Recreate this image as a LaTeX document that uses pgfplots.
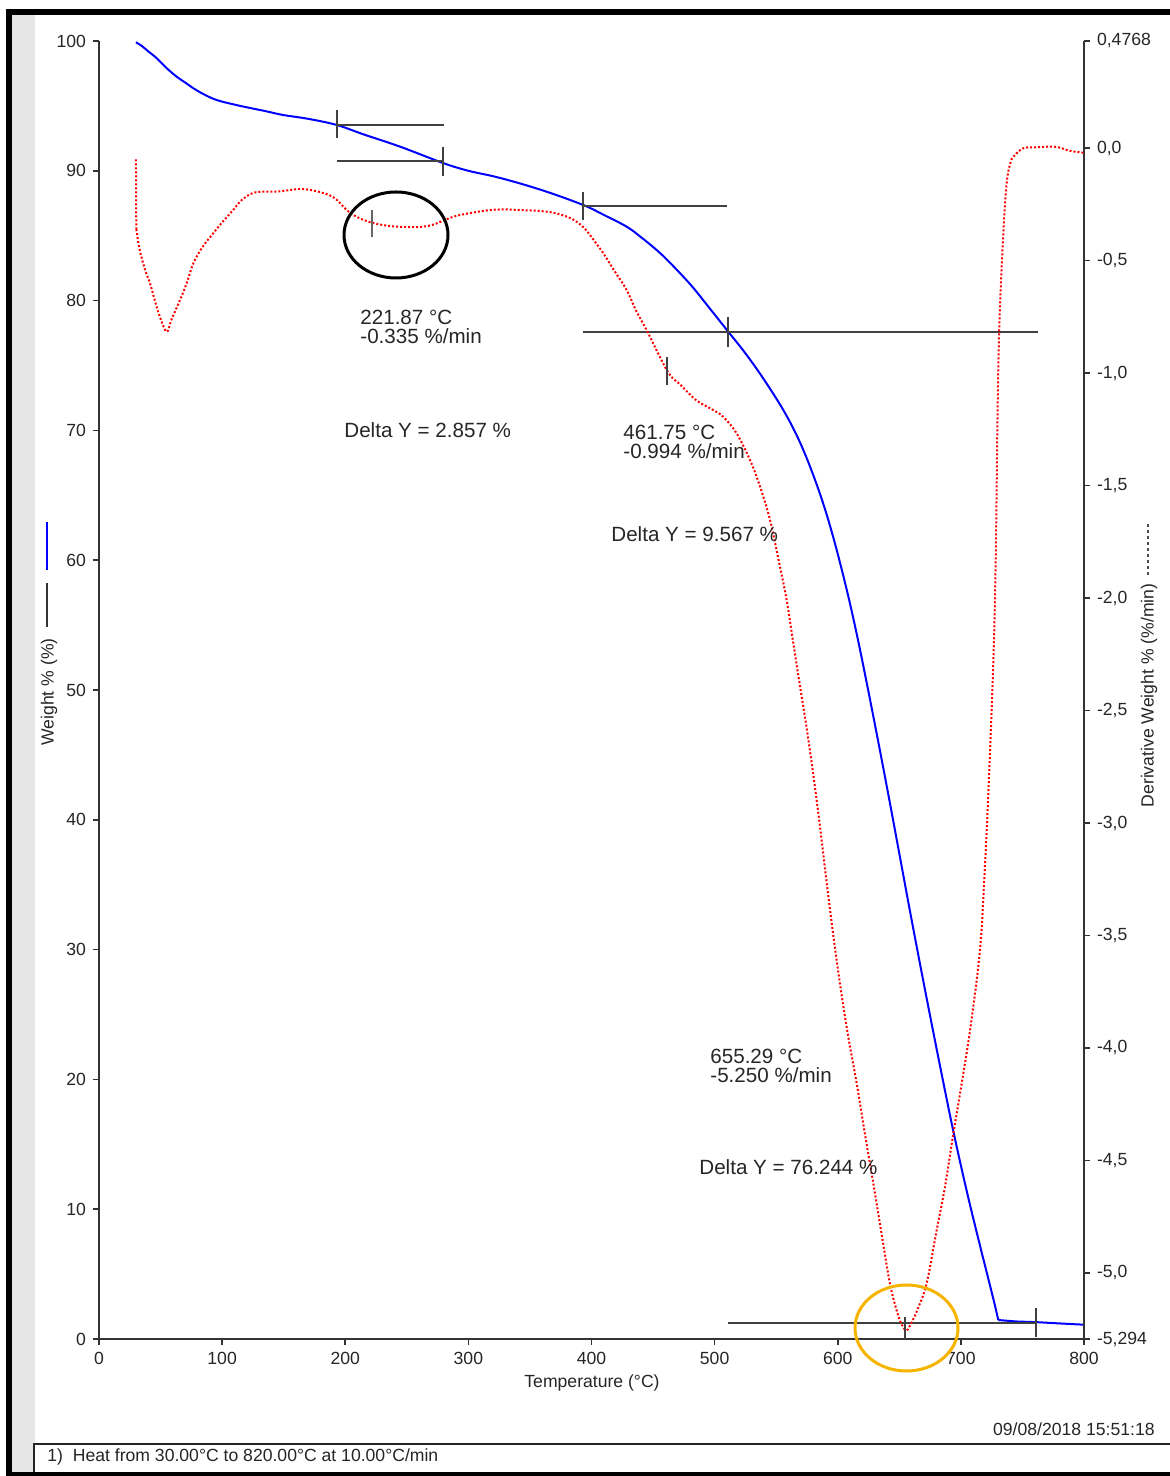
\documentclass[border=0pt]{standalone}
\usepackage{fontspec}
\setmainfont{Liberation Sans}
\usepackage{pgfplots}
\pgfplotsset{compat=1.18}
\definecolor{tgablue}{RGB}{0,0,255}
\definecolor{tgared}{RGB}{255,0,0}
\definecolor{circorange}{RGB}{245,180,0}
\definecolor{stripe}{RGB}{230,230,230}
\newcommand{\lblfont}{\fontsize{8.8}{10}\selectfont}
\newcommand{\annfont}{\fontsize{10.3}{11}\selectfont}
\begin{document}
\begin{tikzpicture}
\path[use as bounding box] (-49.5pt,-68.5pt) rectangle (535.5pt,669.5pt);
\fill[white] (-49.5pt,-68.5pt) rectangle (535.5pt,669.5pt);
\fill[stripe] (-43.5pt,-66.5pt) rectangle (-32pt,662pt);
\fill[black] (-46.5pt,-68.5pt) rectangle (-43.5pt,665pt);
\fill[black] (-46.5pt,662pt) rectangle (536pt,665pt);
\fill[black] (-46.5pt,-68.5pt) rectangle (536pt,-66.3pt);
\draw[line width=0.9pt, black!85] (-32.5pt,-66.5pt) -- (-32.5pt,-52.5pt) -- (536pt,-52.5pt);

\begin{axis}[
  at={(0pt,0pt)}, anchor=south west,
  scale only axis, width=492.5pt, height=649pt,
  xmin=0, xmax=800, ymin=0, ymax=100,
  axis x line*=bottom, axis y line*=left,
  axis line style={-, line width=0.9pt, black!80},
  xtick={0,100,...,800}, ytick={0,10,...,100},
  tick align=outside, major tick length=3pt,
  tick style={line width=0.8pt, black!80},
  /pgf/number format/assume math mode=true,
  tick label style={font=\lblfont, text=black!85},
  clip=false,
]
\addplot[tgablue, line width=1pt, smooth, tension=0.6] coordinates {
(30,99.9) (35,99.6) (40,99.2) (46.9,98.67) (55,97.9) (63.1,97.25) (70,96.8)
(76.3,96.38) (85,95.9) (95.6,95.45) (110,95.1) (122.6,94.84) (135,94.6)
(149.4,94.30) (170,94.0) (193.1,93.53) (215,92.8) (244.5,91.86) (279.4,90.6)
(300,90.0) (325.7,89.45) (360,88.5) (393.1,87.37) (410,86.6) (428.6,85.69)
(440,84.9) (455.6,83.67) (470,82.3) (482.5,81.0) (496,79.4) (511.1,77.6)
(526.1,75.8) (542.3,73.6) (558.6,71.1) (572,68.5) (585.6,65.1) (596.4,61.75)
(607.3,57.72) (615.4,54.32) (622,51.28) (628.9,47.97) (635,44.98) (642.4,41.28)
(650,37.4) (658,33.3) (666.8,28.9) (675,24.9) (684,20.6) (693.9,16.0)
(705,11.3) (715,7.4) (722,4.75) (727,2.85) (730.4,1.46)
};
\addplot[tgablue, line width=1pt] coordinates {
(730.4,1.46) (745,1.35) (761,1.3) (780,1.2) (800,1.1)
};
% step lines
\addplot[black!75, line width=1pt] coordinates {(193.1,93.53) (280.2,93.53)};
\addplot[black!75, line width=1pt] coordinates {(193.1,94.68) (193.1,92.53)};
\addplot[black!75, line width=1pt] coordinates {(193.1,90.76) (280.2,90.76)};
\addplot[black!75, line width=1pt] coordinates {(279.4,91.83) (279.4,89.6)};
\addplot[black!75, line width=1pt] coordinates {(393.1,87.29) (509.8,87.29)};
\addplot[black!75, line width=1pt] coordinates {(393.1,88.37) (393.1,86.21)};
\addplot[black!75, line width=1pt] coordinates {(393.1,77.58) (762.6,77.58)};
\addplot[black!75, line width=1pt] coordinates {(510.9,78.74) (510.9,76.43)};
\addplot[black!75, line width=1pt] coordinates {(510.9,1.23) (761,1.23)};
\addplot[black!75, line width=1pt] coordinates {(761,2.39) (761,0.15)};
\end{axis}

\begin{axis}[
  at={(0pt,0pt)}, anchor=south west,
  scale only axis, width=492.5pt, height=649pt,
  xmin=0, xmax=800, ymin=-5.294, ymax=0.4768,
  axis x line=none, axis y line*=right,
  axis line style={-, line width=0.9pt, black!80},
  ytick={0.4768,0,-0.5,-1,-1.5,-2,-2.5,-3,-3.5,-4,-4.5,-5,-5.294},
  yticklabels={{0,4768},{0,0},{-0,5},{-1,0},{-1,5},{-2,0},{-2,5},{-3,0},{-3,5},{-4,0},{-4,5},{-5,0},{-5,294}},
  tick align=outside, major tick length=3pt,
  tick style={line width=0.8pt, black!80},
  tick label style={font=\lblfont, text=black!85},
  clip=false,
]
\addplot[tgared, line width=1pt, densely dotted] coordinates {
(30,-0.05) (30.3,-0.36)
};
\addplot[tgared, line width=1pt, densely dotted, smooth, tension=0.6] coordinates {
(30.3,-0.36) (33,-0.45) (37.4,-0.54) (41.4,-0.60) (45.5,-0.68)
(49.5,-0.75) (55,-0.816) (59,-0.76) (65.8,-0.675) (71.2,-0.60) (76.6,-0.512)
(84,-0.44) (92.8,-0.378) (100,-0.33) (108.9,-0.275) (116,-0.23) (125.1,-0.199)
(135,-0.193) (144.3,-0.193) (155,-0.186) (163.2,-0.181) (172,-0.186)
(182,-0.199) (190.1,-0.217) (196,-0.245) (201.2,-0.275) (210,-0.307)
(221.5,-0.331) (236.3,-0.346) (250,-0.35) (260.7,-0.350) (270,-0.342)
(277,-0.328) (285,-0.31) (293.2,-0.297) (305,-0.285) (317.6,-0.275)
(330,-0.272) (341.9,-0.275) (355,-0.278) (366.3,-0.284) (375,-0.295)
(382.5,-0.310) (388,-0.327) (395,-0.36) (402,-0.41) (409.6,-0.467)
(418,-0.54) (428.6,-0.631) (436,-0.72) (444.8,-0.809) (453,-0.90)
(461.1,-0.986) (466.4,-1.025) (471.9,-1.05) (485,-1.12) (498.9,-1.164)
(507,-1.194) (517.9,-1.268) (528.7,-1.386) (536.9,-1.505) (545,-1.653)
(553.1,-1.861) (558.5,-2.009) (563.9,-2.20) (569,-2.38) (574.8,-2.58)
(580,-2.78) (585.6,-3.017) (592,-3.31) (599.1,-3.61) (607,-3.90)
(615.4,-4.158) (622,-4.38) (628.9,-4.603) (636,-4.84) (642.4,-5.048)
(648,-5.17) (652,-5.23) (656,-5.255) (660,-5.22) (665,-5.16) (672.2,-5.047)
(680,-4.82) (687,-4.62) (693.9,-4.38) (700,-4.18) (708,-3.90) (715.5,-3.565)
(719,-3.25) (722.3,-2.868) (726.4,-2.276) (728.3,-1.83) (729.5,-1.30)
(730.5,-0.95) (731.8,-0.70) (734.5,-0.377) (737.2,-0.156) (740,-0.07)
(742.6,-0.038) (750.7,0.0) (760,0.004) (775,0.007) (782,0.0) (786,-0.008)
(792,-0.015) (800,-0.02)
};
\addplot[black!60, line width=1pt] coordinates {(221.5,-0.275) (221.5,-0.395)};
\addplot[black!75, line width=1pt] coordinates {(461.3,-0.928) (461.3,-1.053)};
\addplot[black!75, line width=1pt] coordinates {(654.6,-5.197) (654.6,-5.294)};
\end{axis}

% axis labels
\node[rotate=90, font=\lblfont, text=black!85] at (-25pt,323.5pt) {Weight \% (\%)};
\draw[tgablue, line width=1pt] (-26pt,384.5pt) -- (-26pt,408.5pt);
\draw[black!80, line width=1pt] (-26pt,356pt) -- (-26pt,378pt);
\node[rotate=90, font=\lblfont, text=black!85] at (525pt,321.75pt) {Derivative Weight \% (\%/min)};
\draw[black!70, line width=0.8pt, dash pattern=on 1.5pt off 1.5pt] (524.5pt,382pt) -- (524.5pt,408pt);
\node[font=\lblfont, text=black!85] at (246.5pt,-22pt) {Temperature (°C)};

% annotations
\begin{scope}[every node/.style={anchor=base west, inner sep=0pt, font=\annfont, text=black!85}]
\node at (130.5pt,507pt) {221.87 °C};
\node at (130.5pt,497.5pt) {-0.335 \%/min};
\node at (122.5pt,450.5pt) {Delta Y = 2.857 \%};
\node at (262pt,449.5pt) {461.75 °C};
\node at (262pt,440pt) {-0.994 \%/min};
\node at (256pt,398.5pt) {Delta Y = 9.567 \%};
\node at (305.5pt,137.5pt) {655.29 °C};
\node at (305.5pt,128pt) {-5.250 \%/min};
\node at (300pt,82pt) {Delta Y = 76.244 \%};
\end{scope}

% circles
\draw[black, line width=1.5pt] (148.5pt,552pt) ellipse [x radius=26pt, y radius=21.5pt];
\draw[circorange, line width=1.5pt] (403.75pt,5.5pt) ellipse [x radius=25.75pt, y radius=21.5pt];

% footer
\node[anchor=east, inner sep=0pt, font=\lblfont, text=black!85] at (528pt,-45pt) {09/08/2018 15:51:18};
\node[anchor=west, inner sep=0pt, font=\lblfont, text=black!85] at (-26pt,-59pt) {1)\ \ Heat from 30.00°C to 820.00°C at 10.00°C/min};
\end{tikzpicture}
\end{document}
